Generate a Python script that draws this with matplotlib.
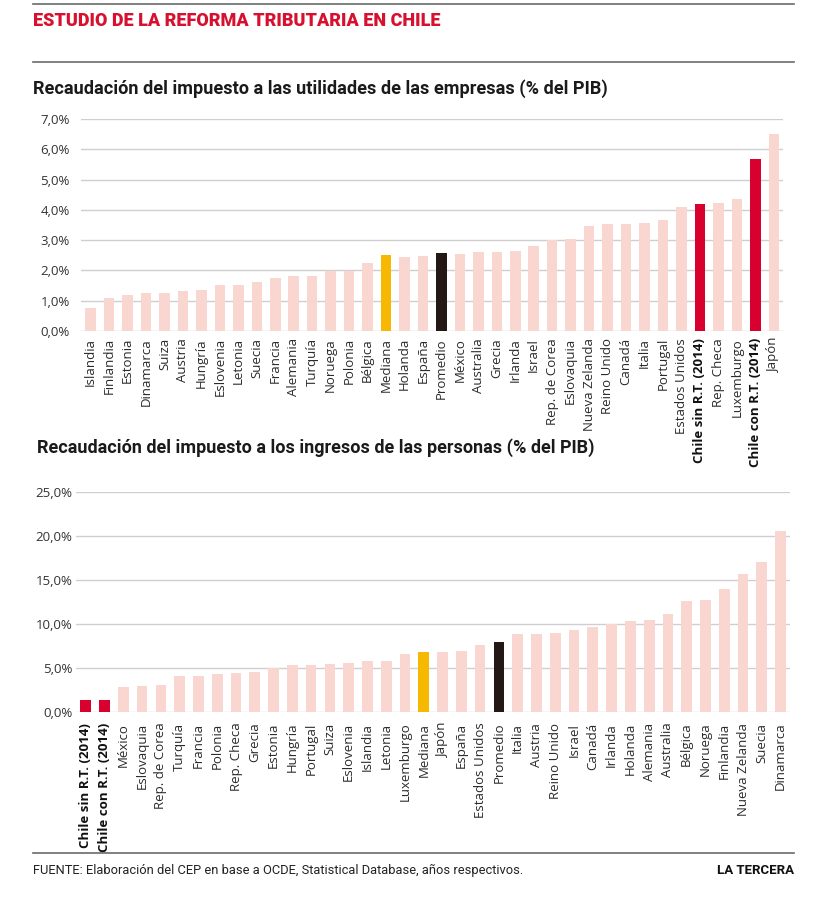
import matplotlib
matplotlib.use('Agg')
import matplotlib.pyplot as plt

# datos (% del PIB)
empresas_paises = ["Islandia", "Finlandia", "Estonia", "Dinamarca", "Suiza", "Austria",
                   "Hungría", "Eslovenia", "Letonia", "Suecia", "Francia", "Alemania",
                   "Turquía", "Noruega", "Polonia", "Bélgica", "Mediana", "Holanda",
                   "España", "Promedio", "México", "Australia", "Grecia", "Irlanda",
                   "Israel", "Rep. de Corea", "Eslovaquia", "Nueva Zelanda", "Reino Unido",
                   "Canadá", "Italia", "Portugal", "Estados Unidos", "Chile sin R.T. (2014)",
                   "Rep. Checa", "Luxemburgo", "Chile con R.T. (2014)", "Japón"]
empresas_valores = [0.75, 1.10, 1.19, 1.26, 1.26, 1.31, 1.36, 1.53, 1.53, 1.63, 1.76, 1.83,
                    1.83, 1.98, 1.99, 2.24, 2.50, 2.45, 2.49, 2.56, 2.54, 2.62, 2.62, 2.65,
                    2.82, 3.00, 3.05, 3.48, 3.54, 3.54, 3.57, 3.67, 4.08, 4.18, 4.23, 4.35,
                    5.68, 6.50]

personas_paises = ["Chile sin R.T. (2014)", "Chile con R.T. (2014)", "México", "Eslovaquia",
                   "Rep. de Corea", "Turquía", "Francia", "Polonia", "Rep. Checa", "Grecia",
                   "Estonia", "Hungría", "Portugal", "Suiza", "Eslovenia", "Islandia",
                   "Letonia", "Luxemburgo", "Mediana", "Japón", "España", "Estados Unidos",
                   "Promedio", "Italia", "Austria", "Reino Unido", "Israel", "Canadá",
                   "Irlanda", "Holanda", "Alemania", "Australia", "Bélgica", "Noruega",
                   "Finlandia", "Nueva Zelanda", "Suecia", "Dinamarca"]
personas_valores = [1.40, 1.40, 2.91, 3.03, 3.10, 4.16, 4.16, 4.31, 4.47, 4.62, 5.00, 5.34,
                    5.34, 5.49, 5.57, 5.87, 5.87, 6.63, 6.87, 6.85, 6.97, 7.61, 7.99, 8.93,
                    8.93, 9.01, 9.39, 9.73, 10.07, 10.41, 10.49, 11.13, 12.65, 12.80, 14.00,
                    15.68, 17.11, 20.64]

ticks_emp = [0, 1, 2, 3, 4, 5, 6, 7]
ticks_per = [0, 5, 10, 15, 20, 25]

ROSA = "#f9d6d0"
AMARILLO = "#f6b800"
NEGRO = "#231815"
ROJO = "#d8002e"
GRIS = "#cfcfcf"

plt.rcParams['font.family'] = ['Open Sans', 'DejaVu Sans']

W, H = 840, 908
fig = plt.figure(figsize=(W / 100, H / 100), dpi=100)
fig.patch.set_facecolor("white")


def color_de(nombre):
    if nombre == "Mediana":
        return AMARILLO
    if nombre == "Promedio":
        return NEGRO
    if nombre.startswith("Chile"):
        return ROJO
    return ROSA


def px_axes(x0, x1, y_top, y_bot):
    return fig.add_axes([x0 / W, 1 - y_bot / H, (x1 - x0) / W, (y_bot - y_top) / H])


def dibujar(ax, paises, valores, ticks, xpad, ypad):
    x = list(range(len(paises)))
    ax.bar(x, valores, width=0.57, color=[color_de(p) for p in paises], zorder=2)
    ax.set_yticks(ticks)
    ax.set_yticklabels([f"{t:.1f}%".replace(".", ",") for t in ticks], fontsize=9.5, color="#333333")
    ax.set_ylim(0, ticks[-1])
    ax.set_xlim(-0.52, len(paises) - 0.5)
    ax.set_xticks(x)
    ax.set_xticklabels(paises, rotation=90, fontsize=9.5, color="#2a2a2a", va="top", ha="center")
    for lab in ax.get_xticklabels():
        if lab.get_text().startswith("Chile"):
            lab.set_fontweight("bold")
            lab.set_color("#111111")
    ax.tick_params(axis="both", length=0)
    ax.tick_params(axis="x", pad=xpad)
    ax.tick_params(axis="y", pad=ypad)
    ax.grid(axis="y", color=GRIS, lw=1, zorder=1)
    ax.set_axisbelow(True)
    for s in ax.spines.values():
        s.set_visible(False)
    ax.set_facecolor("none")


ax1 = px_axes(81, 783, 119, 331)
dibujar(ax1, empresas_paises, empresas_valores, ticks_emp, 5, 8)

ax2 = px_axes(76, 790, 492.3, 712.3)
dibujar(ax2, personas_paises, personas_valores, ticks_per, 7.5, 2.5)

# cabecera, subtitulos y pie
def linea(y):
    fig.add_artist(plt.Line2D([33 / W, 794 / W], [1 - y / H, 1 - y / H], color="#6b6b6b", lw=1.2))

linea(4)
linea(62)
linea(853)
fig.text(33 / W, 1 - 21 / H, "ESTUDIO DE LA REFORMA TRIBUTARIA EN CHILE", family="Roboto",
         fontweight="heavy", fontsize=13, color="#d7102f", va="center", ha="left")
fig.text(33 / W, 1 - 89 / H, "Recaudación del impuesto a las utilidades de las empresas (% del PIB)",
         family="Roboto", fontweight="bold", fontsize=13.1, color="#1a1a1a", va="center", ha="left")
fig.text(37 / W, 1 - 448 / H, "Recaudación del impuesto a los ingresos de las personas (% del PIB)",
         family="Roboto", fontweight="bold", fontsize=13, color="#1a1a1a", va="center", ha="left")
fig.text(33 / W, 1 - 870 / H,
         "FUENTE: Elaboración del CEP en base a OCDE, Statistical Database, años respectivos.",
         family="Roboto", fontsize=9.3, color="#222222", va="center", ha="left")
fig.text(794 / W, 1 - 870 / H, "LA TERCERA", family="Roboto", fontweight="bold",
         fontsize=9.5, color="#111111", va="center", ha="right")

fig.savefig("out.png", dpi=100, facecolor="white")
